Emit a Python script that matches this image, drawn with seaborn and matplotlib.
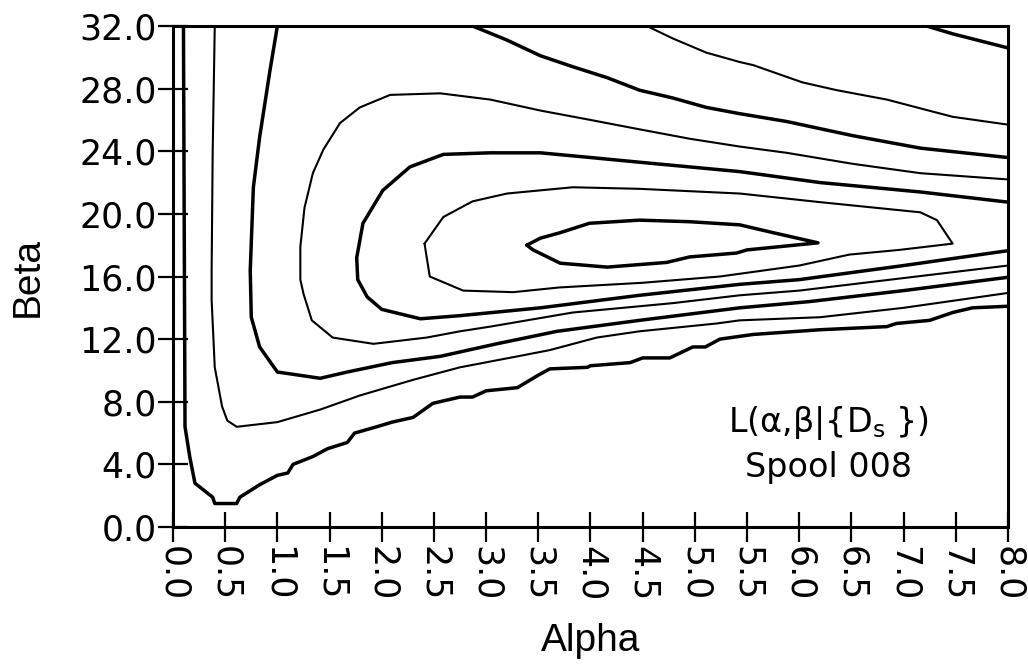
import matplotlib
matplotlib.use("Agg")
import matplotlib.pyplot as plt
import seaborn as sns

# contour paths (alpha, beta), outermost level first
c1_alpha = [0.10, 0.115, 0.16, 0.21, 0.38, 0.40, 0.61, 0.64, 0.83, 1.0, 1.1, 1.15, 1.34, 1.48, 1.67, 1.74, 1.95, 2.1,
            2.3, 2.49, 2.75, 2.87, 3.0, 3.3, 3.5, 3.61, 3.97, 4.0, 4.38, 4.5, 4.76, 4.98, 5.1, 5.24, 5.56, 6.2, 6.84,
            6.93, 7.25, 7.47, 7.66, 8.0]
c1_beta = [32.0, 6.4, 4.5, 2.8, 1.9, 1.5, 1.5, 1.9, 2.7, 3.3, 3.45, 4.0, 4.5, 5.0, 5.4, 6.0, 6.4, 6.7,
           7.0, 7.9, 8.3, 8.3, 8.7, 8.9, 9.7, 10.1, 10.2, 10.3, 10.5, 10.8, 10.8, 11.5, 11.5, 12.0, 12.3, 12.6, 12.8,
           13.0, 13.2, 13.7, 14.0, 14.1]
c1b_alpha = [7.22, 7.47, 8.0]
c1b_beta = [32.0, 31.5, 30.6]

c2_alpha = [0.40, 0.38, 0.37, 0.37, 0.40, 0.47, 0.52, 0.61, 1.0, 1.41, 1.79, 2.3, 2.75, 3.3, 3.61, 4.06, 4.47, 5.21,
            5.43, 6.2, 7.0, 8.0]
c2_beta = [32.0, 23.9, 16.4, 14.5, 10.2, 7.7, 6.8, 6.4, 6.7, 7.5, 8.4, 9.4, 10.2, 10.9, 11.3, 12.1, 12.5, 13.0,
           13.2, 13.4, 14.0, 14.95]
c2b_alpha = [4.54, 4.79, 5.11, 5.43, 5.56, 6.03, 6.36, 6.84, 7.47, 8.0]
c2b_beta = [32.0, 31.2, 30.3, 29.7, 29.5, 28.4, 27.9, 27.3, 26.2, 25.7]

c3_alpha = [1.0, 0.93, 0.83, 0.77, 0.74, 0.75, 0.83, 1.0, 1.41, 1.67, 2.1, 2.56, 3.1, 3.68, 4.47, 5.43, 6.1, 7.0, 8.0]
c3_beta = [32.0, 29.2, 24.9, 21.7, 16.4, 13.4, 11.5, 9.9, 9.5, 9.9, 10.5, 10.9, 11.7, 12.5, 13.2, 14.0, 14.4, 15.1, 15.95]
c3b_alpha = [2.87, 3.2, 3.52, 3.83, 4.16, 4.47, 4.79, 5.11, 5.43, 5.88, 6.51, 7.16, 8.0]
c3b_beta = [32.0, 31.1, 30.1, 29.4, 28.7, 27.9, 27.4, 26.8, 26.4, 25.9, 25.0, 24.2, 23.6]

c4_alpha = [8.0, 7.16, 6.51, 5.88, 5.43, 4.95, 4.47, 4.0, 3.52, 3.04, 2.56, 2.08, 1.79, 1.6, 1.44, 1.34, 1.26, 1.22,
            1.22, 1.25, 1.33, 1.53, 1.92, 2.43, 2.75, 3.04, 3.83, 4.79, 5.43, 6.0, 7.0, 8.0]
c4_beta = [22.2, 22.6, 23.2, 23.9, 24.3, 24.8, 25.4, 26.0, 26.6, 27.3, 27.7, 27.6, 26.8, 25.8, 24.1, 22.6, 20.4, 17.9,
           15.8, 14.9, 13.2, 12.1, 11.7, 12.1, 12.5, 12.8, 13.7, 14.3, 14.8, 15.1, 15.9, 16.7]

c5_alpha = [8.0, 7.16, 6.2, 5.43, 4.95, 4.47, 4.0, 3.52, 3.04, 2.59, 2.27, 2.01, 1.82, 1.76, 1.77, 1.86, 2.0, 2.37,
            2.75, 3.52, 4.47, 5.43, 6.0, 7.0, 8.0]
c5_beta = [20.75, 21.4, 22.0, 22.7, 23.0, 23.3, 23.6, 23.9, 23.9, 23.8, 23.0, 21.5, 19.4, 17.2, 15.8, 14.7, 13.9, 13.3,
           13.5, 14.0, 14.8, 15.5, 15.8, 16.7, 17.65]

c6_alpha = [2.41, 2.59, 2.87, 3.2, 3.83, 4.47, 5.43, 6.2, 7.16, 7.32, 7.47, 6.96, 6.48, 6.0, 5.24, 4.5, 3.7, 3.26,
            2.78, 2.46, 2.41]
c6_beta = [18.1, 19.8, 20.8, 21.3, 21.7, 21.6, 21.3, 20.75, 20.1, 19.6, 18.1, 17.7, 17.4, 16.7, 16.0, 15.6, 15.3, 15.0,
           15.1, 16.0, 18.1]

c7_alpha = [3.39, 3.52, 3.71, 3.99, 4.47, 4.95, 5.43, 5.75, 6.18, 5.5, 5.4, 4.95, 4.73, 4.16, 3.71, 3.45, 3.39]
c7_beta = [18.0, 18.45, 18.8, 19.4, 19.6, 19.5, 19.3, 18.8, 18.15, 17.7, 17.5, 17.25, 16.9, 16.6, 16.85, 17.7, 18.0]

alpha_ticks = [i * 0.5 for i in range(17)]
beta_ticks = [i * 4.0 for i in range(9)]

paths = [(c1_alpha, c1_beta, 'thick'), (c1b_alpha, c1b_beta, 'thick'),
         (c2_alpha, c2_beta, 'thin'), (c2b_alpha, c2b_beta, 'thin'),
         (c3_alpha, c3_beta, 'thick'), (c3b_alpha, c3b_beta, 'thick'),
         (c4_alpha, c4_beta, 'thin'), (c5_alpha, c5_beta, 'thick'),
         (c6_alpha, c6_beta, 'thin'), (c7_alpha, c7_beta, 'thick')]
widths = {'thick': 2.5, 'thin': 1.5}

sns.set_style("ticks")
plt.rcParams['font.family'] = ['DejaVu Sans']
plt.rcParams['text.color'] = 'black'
plt.rcParams['axes.labelcolor'] = 'black'
plt.rcParams['xtick.color'] = 'black'
plt.rcParams['ytick.color'] = 'black'

fig = plt.figure(figsize=(10.28, 6.65), dpi=100)
ax = fig.add_axes([0.1683, 0.2075, 0.8122, 0.7534])

for a, b, w in paths:
    sns.lineplot(x=a, y=b, sort=False, estimator=None, color='black', linewidth=widths[w], ax=ax)

ax.set_xlim(0, 8)
ax.set_ylim(0, 32)
ax.set_xticks(alpha_ticks)
ax.set_xticklabels(['{:.1f}'.format(t) for t in alpha_ticks], rotation=-90, fontsize=25)
ax.set_yticks(beta_ticks)
ax.set_yticklabels(['{:.1f}'.format(t) for t in beta_ticks], fontsize=25)
ax.tick_params(axis='both', direction='inout', length=21, width=1.6, color='black')
ax.tick_params(axis='y', pad=1)
ax.tick_params(axis='x', pad=3)

for s in ax.spines.values():
    s.set_visible(True)
    s.set_linewidth(2.2)
    s.set_color('black')

ax.set_xlabel('Alpha', fontsize=28, family=['Liberation Sans'], labelpad=16)
ax.set_ylabel('Beta', fontsize=28, family=['Liberation Sans'], labelpad=24)

ax.text(6.28, 6.07, 'L(α,β|{D$_\\mathregular{s}$ })', fontsize=24, ha='center', va='baseline')
ax.text(6.28, 3.19, 'Spool 008', fontsize=24, ha='center', va='baseline')

fig.savefig('out.png', dpi=100)
